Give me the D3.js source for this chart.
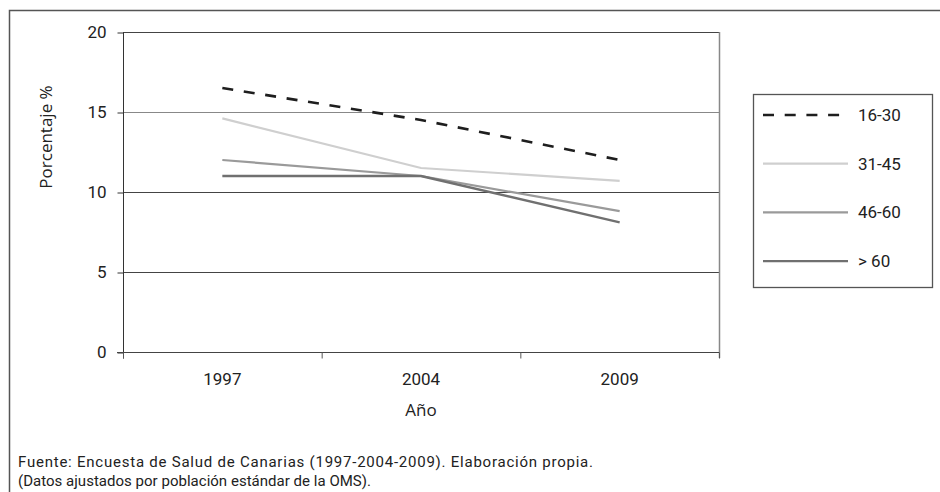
<!DOCTYPE html>
<html>
<head>
<meta charset="utf-8">
<script src="https://cdn.jsdelivr.net/npm/d3@7"></script>
<style>
  body { margin: 0; background: #fff; }
  svg text { font-family: Roboto, "Liberation Sans", sans-serif; fill: #222; }
</style>
</head>
<body>
<script>
const years = ["1997", "2004", "2009"];
const groups = ["16-30", "31-45", "46-60", "> 60"];
const v1630 = [16.5, 14.5, 12.0];
const v3145 = [14.6, 11.5, 10.7];
const v4660 = [12.0, 11.0, 8.8];
const v60 = [11.0, 11.0, 8.1];
const yTicks = [0, 5, 10, 15, 20];

const WIDTH = 940;
const HEIGHT = 492;
const PLOT_L = 123, PLOT_R = 719, PLOT_T = 32, PLOT_B = 352;

const series = [
  { name: groups[0], values: v1630, color: "#1e1e1e", width: 2.6, dash: "11,10.7" },
  { name: groups[1], values: v3145, color: "#cfcfcf", width: 2.2, dash: null },
  { name: groups[2], values: v4660, color: "#9a9a9a", width: 2.2, dash: null },
  { name: groups[3], values: v60, color: "#707070", width: 2.4, dash: null }
];

const svg = d3.select("body")
  .append("svg")
  .attr("width", WIDTH)
  .attr("height", HEIGHT);

// outer frame (open to the right and bottom)
svg.append("path")
   .attr("d", "M9.5,520 V10.5 H960")
   .attr("fill", "none")
   .attr("stroke", "#555")
   .attr("stroke-width", 1.5);

const xScale = d3.scaleBand()
  .domain(years)
  .range([PLOT_L, PLOT_R]);

const yScale = d3.scaleLinear()
  .domain([0, 20])
  .range([PLOT_B, PLOT_T]);

// grid lines
svg.append("g")
   .selectAll("line")
   .data(yTicks.slice(1))
   .enter()
   .append("line")
   .attr("x1", PLOT_L)
   .attr("x2", PLOT_R)
   .attr("y1", d => Math.round(yScale(d)) + 0.5)
   .attr("y2", d => Math.round(yScale(d)) + 0.5)
   .attr("stroke", d => d == 15 ? "#888" : "#444")
   .attr("stroke-width", 1.2);

// right border of plot
svg.append("line")
   .attr("x1", PLOT_R + 0.5).attr("x2", PLOT_R + 0.5)
   .attr("y1", PLOT_T).attr("y2", PLOT_B + 6)
   .attr("stroke", "#888")
   .attr("stroke-width", 1.5);

const yAxis = d3.axisLeft(yScale).tickValues(yTicks).tickSize(6).tickPadding(11);
const gy = svg.append("g")
   .attr("transform", "translate(" + (PLOT_L + 0.5) + ",0.5)")
   .call(yAxis);
gy.select(".domain").attr("stroke", "#333").attr("d", "M0," + yScale(20) + "V" + (PLOT_B + 6));
gy.selectAll(".tick line").attr("stroke", "#333");
gy.selectAll("text").style("font-size", "17px").attr("fill", "#222");

const xAxis = d3.axisBottom(xScale).tickSize(0).tickPadding(20);
const gx = svg.append("g")
   .attr("transform", "translate(0," + (PLOT_B + 0.5) + ")")
   .call(xAxis);
gx.select(".domain").attr("stroke", "#444").attr("d", "M" + (PLOT_L - 6) + ",0H" + PLOT_R);
gx.selectAll("text").style("font-size", "17px").attr("fill", "#222");
// ticks at band edges
gx.selectAll(".edge")
  .data(years.map(y => xScale(y)).concat([PLOT_R]))
  .enter()
  .append("line")
  .attr("x1", d => d + 0.5).attr("x2", d => d + 0.5)
  .attr("y1", 0).attr("y2", 6)
  .attr("stroke", "#555");

const line = d3.line()
  .x((d, i) => xScale(years[i]) + xScale.bandwidth() / 2)
  .y(d => yScale(d));

svg.append("g")
   .selectAll("path")
   .data(series)
   .enter()
   .append("path")
   .attr("d", d => line(d.values))
   .attr("fill", "none")
   .attr("stroke", d => d.color)
   .attr("stroke-width", d => d.width)
   .attr("stroke-dasharray", d => d.dash);

// axis titles
svg.append("text")
   .attr("transform", "translate(52,137) rotate(-90)")
   .attr("text-anchor", "middle")
   .style("font-family", "'Open Sans', sans-serif")
   .style("font-size", "17px")
   .text("Porcentaje %");

svg.append("text")
   .attr("x", 421)
   .attr("y", 416)
   .attr("text-anchor", "middle")
   .style("font-family", "'Open Sans', sans-serif")
   .style("font-size", "17px")
   .text("Año");

// legend
const legend = svg.append("g");
legend.append("rect")
   .attr("x", 753.5).attr("y", 94.5)
   .attr("width", 179).attr("height", 193)
   .attr("fill", "#fff")
   .attr("stroke", "#555")
   .attr("stroke-width", 1.3);

const items = legend.selectAll(".item")
   .data(series)
   .enter()
   .append("g")
   .attr("transform", (d, i) => "translate(0," + (115 + i * 48.7) + ")");
items.append("line")
   .attr("x1", 763).attr("x2", 848)
   .attr("stroke", d => d.color)
   .attr("stroke-width", d => d.width)
   .attr("stroke-dasharray", d => d.dash);
items.append("text")
   .attr("x", 858)
   .attr("y", 6)
   .style("font-size", "17px")
   .text(d => d.name);

// source note
const note = svg.append("g")
   .style("font-size", "15px");
note.append("text").attr("x", 18).attr("y", 467)
   .attr("textLength", 575).attr("lengthAdjust", "spacing")
   .text("Fuente: Encuesta de Salud de Canarias (1997-2004-2009). Elaboración propia.");
note.append("text").attr("x", 18).attr("y", 486)
   .attr("textLength", 353).attr("lengthAdjust", "spacing")
   .text("(Datos ajustados por población estándar de la OMS).");
</script>
</body>
</html>
